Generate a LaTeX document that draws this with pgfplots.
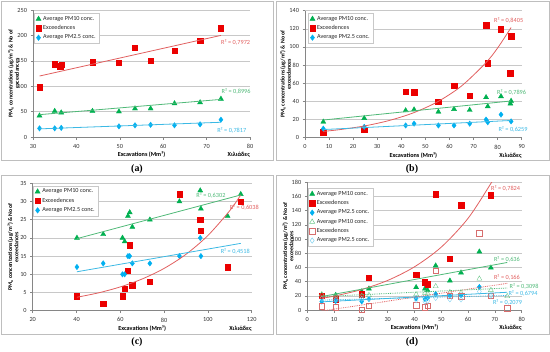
\documentclass[border=0pt]{standalone}
\usepackage{pgfplots}
\pgfplotsset{compat=1.18}
\usepackage{fontspec}
\setmainfont{Carlito}
\newfontfamily\serifpanel{Liberation Serif}
\definecolor{cgreen}{RGB}{0,176,80}
\definecolor{cred}{RGB}{235,0,0}
\definecolor{cblue}{RGB}{0,176,240}
\definecolor{tgreen}{RGB}{80,185,120}
\definecolor{tred}{RGB}{225,95,95}
\definecolor{tblue}{RGB}{60,185,228}
\definecolor{hred}{RGB}{215,110,110}
\definecolor{hgreen}{RGB}{110,200,140}
\definecolor{hblue}{RGB}{130,210,240}
\definecolor{axgray}{RGB}{134,134,134}
\definecolor{gridgray}{RGB}{200,200,200}
\definecolor{framegray}{RGB}{190,190,190}
\tikzset{
  rsq/.style={font=\fontsize{6.3}{7}\selectfont, inner sep=0pt},
  thou/.style={font=\bfseries\fontsize{6.2}{7}\selectfont, anchor=east, yshift=-18bp, inner sep=0pt},
}
\pgfplotsset{
  excelaxis/.style={
    scale only axis, anchor=south west,
    axis x line*=bottom, axis y line*=left,
    axis line style={draw=axgray, line width=0.5bp},
    ymajorgrids, grid style={draw=gridgray, line width=0.5bp},
    tick align=outside, major tick length=2.5bp,
    tick style={draw=axgray, line width=0.5bp},
    xtick pos=bottom, ytick pos=left,
    tick label style={font=\fontsize{6.3}{7}\selectfont, text=black!80},
    xticklabel style={yshift=-1bp},
    /pgf/number format/assume math mode=true,
    xlabel={Excavations (Mm³)},
    xlabel style={font=\bfseries\fontsize{6.2}{7}\selectfont, at={(axis description cs:0.5,0)}, anchor=center, yshift=-18bp},
    ylabel={PM\textsubscript{x} concentrations (μg/m³) \& No of\\exceedances},
    ylabel style={font=\bfseries\fontsize{5.8}{6.3}\selectfont, align=center, at={(axis description cs:-0.09,0.5)}, anchor=center},
    clip mode=individual,
    legend cell align=left,
    legend style={font=\fontsize{6.2}{7}\selectfont, draw=gridgray, line width=0.5bp, anchor=north west, inner xsep=1.5bp, inner ysep=1bp, row sep=-0.3bp, text=black!85},
  },
  legimg/.style={legend image code/.code={\draw[mark repeat=2,mark phase=2,##1] plot coordinates {(0bp,0bp) (4bp,0bp) (8bp,0bp)};}},
  pmten/.style={only marks, mark=triangle*, mark size=2.9bp, color=cgreen, mark options={fill=cgreen, draw=cgreen}, legimg},
  exced/.style={only marks, mark=square*, mark size=2.7bp, color=cred, mark options={fill=cred, draw=cred}, legimg},
  pmtwo/.style={only marks, mark=diamond*, mark size=2.7bp, color=cblue, mark options={fill=cblue, draw=cblue}, legimg},
  hpmten/.style={only marks, mark=triangle, mark size=2.9bp, color=hgreen, mark options={fill=white, draw=hgreen}, legimg},
  hexced/.style={only marks, mark=square, mark size=2.7bp, color=hred, mark options={fill=white, draw=hred}, legimg},
  hpmtwo/.style={only marks, mark=diamond, mark size=2.7bp, color=hblue, mark options={fill=white, draw=hblue}, legimg},
  trg/.style={forget plot, no markers, draw=tgreen, line width=0.8bp},
  trr/.style={forget plot, no markers, draw=tred, line width=0.8bp},
  trb/.style={forget plot, no markers, draw=tblue, line width=0.8bp},
}
\begin{document}
\begin{tikzpicture}[x=1bp,y=1bp]
\useasboundingbox (0,0) rectangle (550,351);
\draw[framegray, line width=0.6bp] (1,191) rectangle (273,350);
\draw[framegray, line width=0.6bp] (276.5,191) rectangle (549,350);
\draw[framegray, line width=0.6bp] (1,17) rectangle (273,175.5);
\draw[framegray, line width=0.6bp] (276.5,17) rectangle (549,175.5);
\node[font=\serifpanel\bfseries\fontsize{10}{12}\selectfont] at (137,182) {(a)};
\node[font=\serifpanel\bfseries\fontsize{10}{12}\selectfont] at (412,182) {(b)};
\node[font=\serifpanel\bfseries\fontsize{10}{12}\selectfont] at (137,8.5) {(c)};
\node[font=\serifpanel\bfseries\fontsize{10}{12}\selectfont] at (412,8.5) {(d)};

% ---------------- (a)
\begin{axis}[excelaxis, at={(33bp,214bp)}, width=217bp, height=127bp,
  xmin=30, xmax=80, xtick={30,40,50,60,70,80},
  ymin=0, ymax=250, ytick={0,50,100,150,200,250},
  legend style={at={(0.005,0.976)}}]
\addplot[pmten] coordinates {(31.5,42) (35,51) (36.5,48) (43.7,51) (49.8,50) (53.5,56) (57.1,56) (62.6,66) (68.5,68) (73.3,75)};
\addlegendentry{Average PM10 conc.}
\addplot[exced] coordinates {(31.5,98) (35,143) (36.3,139) (36.6,142) (43.7,147) (49.8,146) (53.5,176) (57.1,150) (62.6,170) (68.5,190) (73.3,214)};
\addlegendentry{Exceedences}
\addplot[pmtwo] coordinates {(31.5,17) (35,17) (36.5,18) (49.8,21) (53.5,23) (57.1,24) (62.6,23) (68.5,25) (73.3,34)};
\addlegendentry{Average PM2.5 conc.}
\addplot[trr] coordinates {(31.5,120) (73.3,200)};
\addplot[trg] coordinates {(31.5,44) (73.3,74)};
\addplot[trb] coordinates {(31.5,16) (73.3,29)};
\node[rsq, text=tred] at (axis cs:76.7,186.4) {R² = 0,7972};
\node[rsq, text=tgreen] at (axis cs:76.8,89.2) {R² = 0,8996};
\node[rsq, text=tblue] at (axis cs:75.8,12.4) {R² = 0,7817};
\node[thou] at (rel axis cs:1,0) {Χιλιάδες};
\end{axis}

% ---------------- (b)
\begin{axis}[excelaxis, at={(305bp,213.3bp)}, width=216.7bp, height=127bp,
  xmin=0, xmax=90, xtick={0,10,20,30,40,50,60,70,80,90},
  ymin=0, ymax=140, ytick={0,20,40,60,80,100,120,140},
  legend style={at={(0.014,0.982)}}]
\addplot[pmten] coordinates {(7.6,17.5) (24.6,21.5) (41.8,30) (45.3,31) (55.4,28.5) (61.9,31.5) (68.4,30.5) (75.2,44.5) (75.9,34.5) (81.4,45.5) (85.6,40.5) (85.3,37.5)};
\addlegendentry{Average PM10 conc.}
\addplot[exced] coordinates {(7.6,6) (24.6,9) (41.8,51) (45.3,50) (55.4,40) (61.9,57) (68.4,46) (75.2,124) (75.9,82) (81.4,119.5) (85.6,112) (85.3,71)};
\addlegendentry{Exceedences}
\addplot[pmtwo] coordinates {(7.6,10) (24.6,12) (41.8,13.5) (45.3,15.5) (55.4,13.5) (61.9,13.5) (68.4,15.5) (75.2,20) (75.9,17) (81.4,25.5) (85.6,18)};
\addlegendentry{Average PM2.5 conc.}
\addplot[trr, smooth] coordinates {(7.6,6.9) (15,9.1) (25,13.1) (35,19.0) (45,27.4) (55,39.5) (65,57.0) (75,82.3) (80,98.9) (85.6,121.5)};
\addplot[trg] coordinates {(7.6,19.5) (85.6,40.5)};
\addplot[trb] coordinates {(7.6,9) (85.6,19)};
\node[rsq, text=tred] at (axis cs:84.6,129) {R² = 0,8405};
\node[rsq, text=tgreen] at (axis cs:85.8,49.6) {R² = 0,7896};
\node[rsq, text=tblue] at (axis cs:86.4,9.3) {R² = 0,6259};
\node[thou] at (rel axis cs:1,0) {Χιλιάδες};
\end{axis}

% ---------------- (c)
\begin{axis}[excelaxis, at={(32.7bp,40.3bp)}, width=219bp, height=127.4bp,
  xmin=20, xmax=120, xtick={20,40,60,80,100,120},
  ymin=0, ymax=35, ytick={0,5,10,15,20,25,30,35},
  legend style={at={(0.002,0.981)}}]
\addplot[pmten] coordinates {(40.2,20) (52.2,21) (61,20) (62,19) (63.5,26) (64.3,27) (65.5,23) (73.5,25) (87,30) (96.5,33) (96.8,28) (109,26) (115,32)};
\addlegendentry{Average PM10 conc.}
\addplot[exced] coordinates {(40.2,4) (52.2,2) (61,4) (62,6) (63.5,11) (64.3,18) (65.5,7) (73.5,8) (87,32) (96.5,25) (96.8,22) (109,12) (115,30)};
\addlegendentry{Exceedences}
\addplot[pmtwo] coordinates {(40.2,12) (52.2,13) (61,10) (62,10) (63.5,15) (64.3,15) (65.5,13) (73.5,13) (87,15) (96.5,20) (96.8,15)};
\addlegendentry{Average PM2.5 conc.}
\addplot[trr, smooth] coordinates {(40.2,3.7) (50,4.9) (60,6.54) (70,8.72) (80,11.62) (90,15.5) (100,20.66) (110,27.5) (115,31.8)};
\addplot[trg] coordinates {(40.2,19.8) (115,31.8)};
\addplot[trb] coordinates {(40.2,10.7) (115,18.5)};
\node[rsq, text=tgreen] at (axis cs:101.4,31.6) {R² = 0,6302};
\node[rsq, text=tred] at (axis cs:116.6,28.4) {R² = 0,6038};
\node[rsq, text=tblue] at (axis cs:112.5,16.4) {R² = 0,4518};
\node[thou] at (rel axis cs:1,0) {Χιλιάδες};
\end{axis}

% ---------------- (d)
\begin{axis}[excelaxis, at={(307.3bp,41bp)}, width=214.4bp, height=127.7bp,
  xmin=0, xmax=80, xtick={0,10,20,30,40,50,60,70,80},
  ymin=0, ymax=180, ytick={0,20,40,60,80,100,120,140,160,180},
  legend style={at={(0.002,0.955)}}]
\addplot[pmten] coordinates {(5.4,21) (10.6,21) (20.3,26) (23,30) (40.6,32) (43.9,30) (44.9,27.7) (47.9,62.5) (53.2,41.3) (57.35,52.6) (64.2,82.2) (68.5,59.6)};
\addlegendentry{Average PM10 conc.}
\addplot[exced] coordinates {(5.4,20.5) (10.6,15.5) (20.3,22.5) (23,45.5) (40.6,50) (43.9,39) (44.9,36.6) (47.9,163.5) (53.2,72) (57.35,148) (68.5,162)};
\addlegendentry{Exceedences}
\addplot[pmtwo] coordinates {(5.4,12) (10.6,12.7) (20.3,12.2) (23,15.5) (40.6,16.5) (43.9,15.5) (44.9,17) (47.9,22.5) (53.2,20.2) (57.35,20.6) (64.2,32.4)};
\addlegendentry{Average PM2.5 conc.}
\addplot[hpmten] coordinates {(5.4,22) (10.6,19) (20.3,20) (23,21) (40.6,22) (43.9,24) (44.9,23) (47.9,33.4) (53.2,25) (57.35,24.4) (64.2,44) (68.5,28) (74.6,19.3)};
\addlegendentry{Average PM10 conc.}
\addplot[hexced] coordinates {(5.4,5.6) (10.6,3.8) (20.3,0.5) (23,6) (40.6,6.6) (43.9,4.2) (44.9,6.1) (47.9,55.4) (53.2,20) (57.35,19.7) (64.2,108) (68.5,20.2) (74.6,2.8)};
\addlegendentry{Exceedences}
\addplot[hpmtwo] coordinates {(5.4,16) (10.6,15) (20.3,16) (23,16) (40.6,14) (43.9,12) (44.9,13) (47.9,17) (53.2,15) (57.35,15) (64.2,26) (68.5,20)};
\addlegendentry{Average PM2.5 conc.}
\addplot[trr, smooth] coordinates {(5.4,16.5) (10,19.6) (20,28.6) (30,41.7) (40,60.9) (50,88.7) (60,129.3) (68.8,180.2) (70,188.6)};
\addplot[trg] coordinates {(5.4,19) (74.6,67)};
\addplot[trb] coordinates {(5.4,11.5) (74.6,25)};
\addplot[trr, densely dotted] coordinates {(5.4,-1.4) (74.6,37.6)};
\addplot[trg, densely dotted] coordinates {(5.4,19) (74.6,31)};
\addplot[trb, densely dotted] coordinates {(5.4,14) (74.6,20.5)};
\node[rsq, text=tred] at (axis cs:74,171.6) {R² = 0,7824};
\node[rsq, text=tgreen] at (axis cs:74.5,71.5) {R² = 0,636};
\node[rsq, text=tred] at (axis cs:74.5,46.1) {R² = 0,166};
\node[rsq, text=tgreen] at (axis cs:80.9,32.8) {R² = 0,3098};
\node[rsq, text=tblue] at (axis cs:80.5,22.6) {R² = 0,6794};
\node[rsq, text=tblue] at (axis cs:74.7,10.9) {R² = 0,2079};
\node[thou] at (rel axis cs:1,0) {Χιλιάδες};
\end{axis}
\end{tikzpicture}
\end{document}
